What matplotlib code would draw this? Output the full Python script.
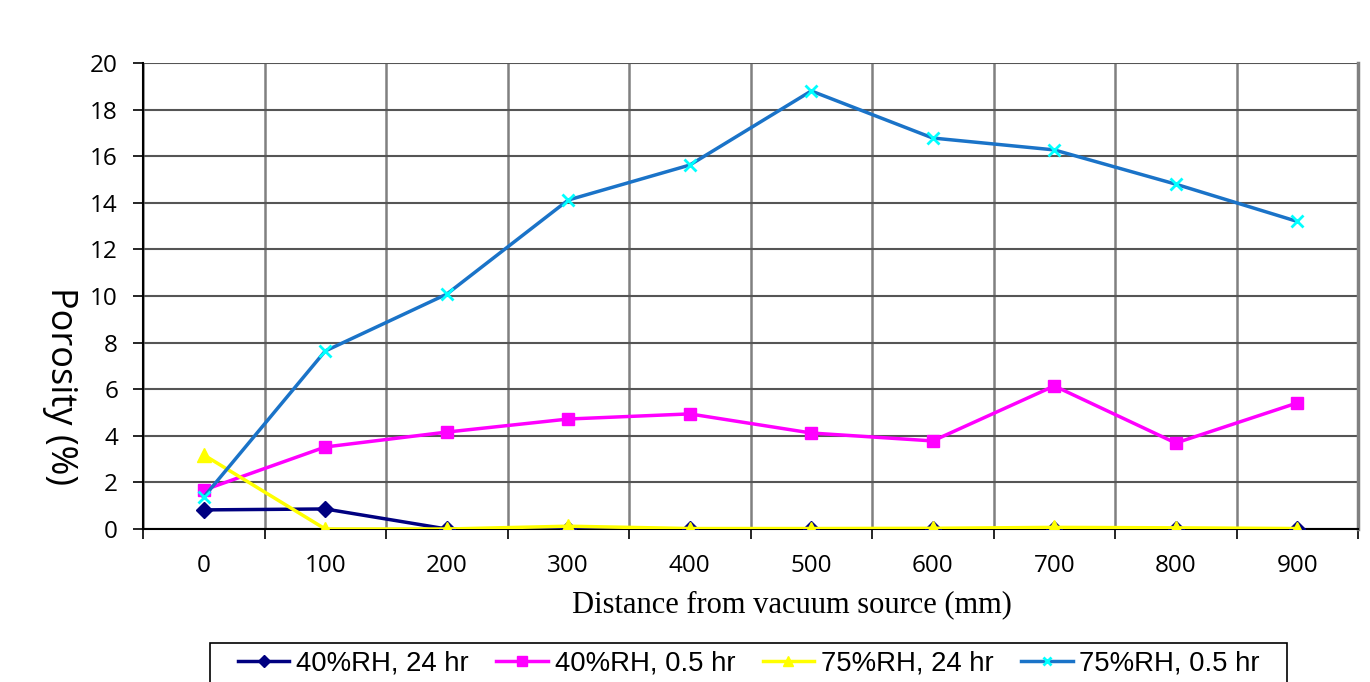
import matplotlib
matplotlib.use("Agg")
import matplotlib.pyplot as plt
from matplotlib.ticker import FixedLocator, NullFormatter
from matplotlib.patches import Rectangle

categories = ["0", "100", "200", "300", "400", "500", "600", "700", "800", "900"]
rh40_24 = [0.82, 0.86, 0.0, 0.02, 0.0, 0.0, 0.0, 0.0, 0.0, 0.0]
rh40_05 = [1.67, 3.52, 4.16, 4.72, 4.94, 4.12, 3.78, 6.14, 3.69, 5.41]
rh75_24 = [3.18, 0.0, 0.0, 0.12, 0.02, 0.02, 0.03, 0.07, 0.05, 0.02]
rh75_05 = [1.37, 7.64, 10.08, 14.12, 15.62, 18.8, 16.78, 16.27, 14.8, 13.2]
labels = ["40%RH, 24 hr", "40%RH, 0.5 hr", "75%RH, 24 hr", "75%RH, 0.5 hr"]
yticks = [0, 2, 4, 6, 8, 10, 12, 14, 16, 18, 20]

W, H = 1370, 682
fig = plt.figure(figsize=(W / 100, H / 100), dpi=100)
ax = fig.add_axes([143 / W, 1 - 529 / H, (1358 - 143) / W, (529 - 63) / H])

x = list(range(len(categories)))
ax.plot(x, rh40_24, color="#000080", lw=2.5, marker="D", ms=8, mfc="#000080", mec="#000080", label=labels[0], zorder=3)
ax.plot(x, rh40_05, color="#FF00FF", lw=2.5, marker="s", ms=9, mfc="#FF00FF", mec="#FF00FF", label=labels[1], zorder=3)
ax.plot(x, rh75_24, color="#FFFF00", lw=2.5, marker="^", ms=9.5, mfc="#FFFF00", mec="#FFFF00", label=labels[2], zorder=3)
ax.plot(x, rh75_05, color="#1A73C8", lw=2.5, marker="x", ms=8.5, mew=2, mec="#00FFFF", label=labels[3], zorder=3)

ax.set_xlim(-0.5, len(categories) - 0.5)
ax.set_ylim(0, 20)
ax.set_yticks(yticks)
ax.set_xticks(x)
ax.set_xticklabels(categories)
ax.xaxis.set_minor_locator(FixedLocator([i - 0.5 for i in range(len(categories) + 1)]))
ax.xaxis.set_minor_formatter(NullFormatter())
ax.tick_params(axis="x", which="major", length=0, pad=18, labelsize=17.5)
ax.tick_params(axis="x", which="minor", length=7, width=1.2, color="black", direction="out")
ax.tick_params(axis="y", which="major", length=7, width=1.2, color="black", direction="out", labelsize=17.5, pad=11)
for lab in ax.get_xticklabels() + ax.get_yticklabels():
    lab.set_family("Open Sans")

ax.grid(True, axis="x", which="minor", color="#808080", lw=1.8)
ax.grid(True, axis="y", which="major", color="#555555", lw=1.5)
ax.set_axisbelow(True)
ax.spines["top"].set_visible(False)
ax.spines["right"].set_color("#808080")
ax.spines["right"].set_linewidth(2.5)
for s in ["left", "bottom"]:
    ax.spines[s].set_color("black")
    ax.spines[s].set_linewidth(1.5)

fig.text(792 / W, 1 - 612 / H, "Distance from vacuum source (mm)", family="Liberation Serif",
         fontsize=22, ha="center", va="baseline")
fig.text(60 / W, 1 - 386 / H, "Porosity (%)", family="Open Sans", fontsize=26,
         rotation=270, ha="center", va="center")

# legend frame (cut off at bottom edge like the reference)
fig.patches.append(Rectangle((210 / W, -0.05), (1287 - 210) / W, (1 - 643 / H) + 0.05,
                             transform=fig.transFigure, fill=False, edgecolor="black", lw=1.2))
leg = fig.legend(loc="upper left", bbox_to_anchor=(238 / W, 1 - 651 / H), ncol=4,
                 prop={"family": "Liberation Sans", "size": 19.8},
                 frameon=False, handlelength=1.87, handletextpad=0.25, columnspacing=1.0,
                 borderpad=0, borderaxespad=0, markerscale=0.75)

fig.savefig("out.png", dpi=100)
